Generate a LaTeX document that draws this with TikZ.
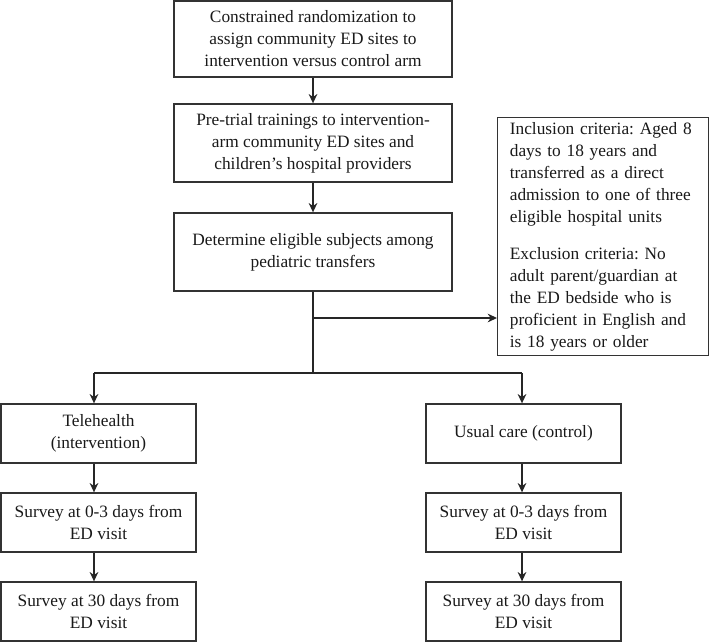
\documentclass[tikz,border=0pt]{standalone}
\usepackage{fontspec}
\setmainfont{Liberation Serif}
\usetikzlibrary{arrows.meta}
\frenchspacing
\begin{document}
\begin{tikzpicture}[x=0.75pt,y=-0.75pt,
  box/.style={draw=black!80, line width=1pt, inner sep=0pt, align=center,
    font=\fontsize{13pt}{16.5pt}\selectfont\frenchspacing, text=black!90},
  topbox/.style={box, minimum width=208.5pt},
  smallbox/.style={box, minimum width=146.25pt, minimum height=44.25pt},
  conn/.style={draw=black!85, line width=1pt},
  arr/.style={conn, -{Stealth[length=7pt,width=6.5pt]}}
]
\useasboundingbox (0,0) rectangle (709,642);

\node[topbox, minimum height=57pt] (b1) at (313,39)
  {Constrained randomization to\\assign community ED sites to\\intervention versus control arm};
\node[topbox, minimum height=58.5pt] (b2) at (313,143)
  {Pre-trial trainings to intervention-\\arm community ED sites and\\children’s hospital providers};
\node[topbox, minimum height=58.5pt] (b3) at (313,252)
  {Determine eligible subjects among\\pediatric transfers};

\node[box, anchor=north west, align=left, minimum width=158.25pt,
  minimum height=178.5pt, text width=140pt, inner xsep=9pt] (crit) at (497,117)
  {Inclusion criteria: Aged 8\\days to 18 years and\\transferred as a direct\\admission to one of three\\eligible hospital units\\[11pt]Exclusion criteria: No\\adult parent/guardian at\\the ED bedside who is\\proficient in English and\\is 18 years or older};

\node[smallbox] (tele) at (98.5,433.5) {Telehealth\\(intervention)};
\node[smallbox] (ls1) at (98.5,522.5) {Survey at 0-3 days from\\ED visit};
\node[smallbox] (ls2) at (98.5,611.5) {Survey at 30 days from\\ED visit};

\node[smallbox] (usual) at (523.5,433.5) {Usual care (control)};
\node[smallbox] (rs1) at (523.5,522.5) {Survey at 0-3 days from\\ED visit};
\node[smallbox] (rs2) at (523.5,611.5) {Survey at 30 days from\\ED visit};

\coordinate (br) at (313,318);
\coordinate (sp) at (313,373);
\coordinate (lc) at (94,373);
\coordinate (rc) at (522,373);

\draw[arr] (b1.south) -- (b2.north);
\draw[arr] (b2.south) -- (b3.north);
\draw[conn] (b3.south) -- (sp);
\draw[arr] (br) -- (br -| crit.west);
\draw[conn] (lc) -- (rc);
\draw[arr] (lc) -- (lc |- tele.north);
\draw[arr] (rc) -- (rc |- usual.north);
\draw[arr] (tele.south -| lc) -- (ls1.north -| lc);
\draw[arr] (ls1.south -| lc) -- (ls2.north -| lc);
\draw[arr] (usual.south -| rc) -- (rs1.north -| rc);
\draw[arr] (rs1.south -| rc) -- (rs2.north -| rc);
\end{tikzpicture}
\end{document}
